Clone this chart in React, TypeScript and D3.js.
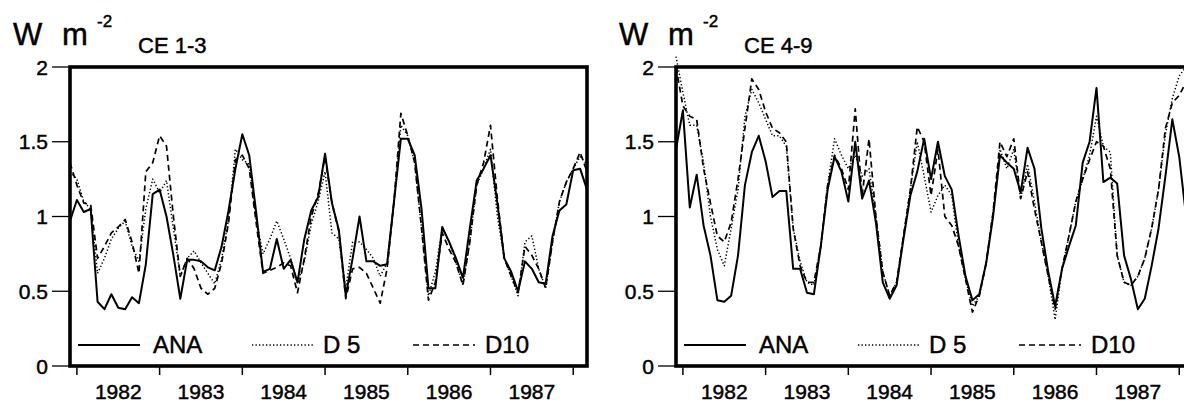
import React from "react";
import * as d3 from "d3";

// Monthly values, Dec 1981 .. Mar 1988 (76 months)
const years = ["1982", "1983", "1984", "1985", "1986", "1987"];
const yTickValues = [0, 0.5, 1, 1.5, 2];
const yTickLabels = ["0", "0.5", "1", "1.5", "2"];
const seriesNames = ["ANA", "D 5", "D10"];
const panelTitles = ["CE 1-3", "CE 4-9"];

const anaLeft = [0.97, 1.11, 1.03, 1.05, 0.43, 0.38, 0.48, 0.39, 0.38, 0.46, 0.42, 0.68, 1.15, 1.18, 1.0, 0.74, 0.45, 0.71, 0.71, 0.7, 0.66, 0.64, 0.8, 1.04, 1.32, 1.55, 1.41, 1.03, 0.63, 0.65, 0.85, 0.65, 0.71, 0.56, 0.85, 1.04, 1.13, 1.42, 1.09, 0.91, 0.47, 0.72, 1.0, 0.7, 0.7, 0.67, 0.68, 1.1, 1.52, 1.52, 1.41, 1.05, 0.52, 0.52, 0.93, 0.83, 0.72, 0.59, 0.92, 1.24, 1.32, 1.41, 1.09, 0.72, 0.63, 0.5, 0.7, 0.65, 0.56, 0.55, 0.87, 1.04, 1.08, 1.31, 1.32, 1.18];
const d5Left = [1.3, 1.25, 1.1, 1.05, 0.62, 0.72, 0.85, 0.92, 0.97, 0.8, 0.7, 1.05, 1.25, 1.16, 1.24, 0.92, 0.6, 0.72, 0.77, 0.69, 0.62, 0.55, 0.72, 0.98, 1.45, 1.38, 1.35, 0.98, 0.75, 0.85, 0.97, 0.85, 0.72, 0.55, 0.7, 0.95, 1.1, 1.3, 0.89, 0.85, 0.52, 0.83, 0.83, 0.78, 0.72, 0.6, 0.69, 1.1, 1.61, 1.54, 1.36, 0.92, 0.47, 0.63, 0.92, 0.83, 0.69, 0.54, 0.83, 1.21, 1.32, 1.45, 1.0, 0.72, 0.6, 0.47, 0.83, 0.87, 0.65, 0.52, 0.83, 1.1, 1.23, 1.32, 1.4, 1.35];
const d10Left = [1.36, 1.21, 1.09, 1.08, 0.72, 0.8, 0.89, 0.93, 0.98, 0.83, 0.62, 1.3, 1.36, 1.54, 1.47, 1.0, 0.6, 0.72, 0.65, 0.52, 0.48, 0.52, 0.69, 0.96, 1.38, 1.41, 1.32, 0.96, 0.62, 0.64, 0.66, 0.69, 0.67, 0.49, 0.72, 1.0, 1.15, 1.4, 1.09, 0.9, 0.45, 0.65, 0.66, 0.62, 0.52, 0.42, 0.65, 1.1, 1.69, 1.54, 1.36, 0.92, 0.44, 0.56, 0.89, 0.78, 0.69, 0.54, 0.83, 1.21, 1.36, 1.61, 1.12, 0.72, 0.6, 0.49, 0.8, 0.74, 0.65, 0.52, 0.83, 1.1, 1.23, 1.32, 1.43, 1.3];

const anaRight = [1.45, 1.71, 1.06, 1.28, 0.94, 0.74, 0.44, 0.43, 0.47, 0.74, 1.21, 1.43, 1.54, 1.37, 1.13, 1.17, 1.17, 0.65, 0.65, 0.49, 0.48, 0.8, 1.18, 1.4, 1.3, 1.1, 1.5, 1.12, 1.24, 0.96, 0.56, 0.45, 0.54, 0.85, 1.14, 1.3, 1.52, 1.25, 1.5, 1.27, 1.18, 0.87, 0.6, 0.44, 0.48, 0.69, 1.0, 1.41, 1.36, 1.32, 1.16, 1.46, 1.32, 0.92, 0.63, 0.4, 0.65, 0.8, 0.94, 1.36, 1.5, 1.86, 1.23, 1.26, 1.22, 0.74, 0.58, 0.38, 0.45, 0.67, 0.92, 1.27, 1.65, 1.4, 1.0, 0.8];
const d5Right = [2.07, 1.83, 1.61, 1.61, 1.36, 1.0, 0.78, 0.67, 0.92, 1.18, 1.67, 1.85, 1.76, 1.65, 1.54, 1.54, 1.47, 0.92, 0.7, 0.56, 0.54, 0.8, 1.21, 1.52, 1.41, 1.32, 1.41, 1.27, 1.32, 1.0, 0.63, 0.47, 0.56, 0.87, 1.18, 1.5, 1.27, 1.03, 1.14, 1.21, 1.14, 0.8, 0.58, 0.4, 0.47, 0.69, 1.03, 1.45, 1.32, 1.45, 1.12, 1.35, 1.1, 0.83, 0.6, 0.31, 0.65, 0.87, 1.1, 1.25, 1.41, 1.67, 1.47, 1.43, 0.74, 0.56, 0.54, 0.6, 0.72, 0.92, 1.18, 1.55, 1.79, 1.94, 2.0, 1.9];
const d10Right = [2.0, 1.74, 1.67, 1.65, 1.32, 1.09, 0.87, 0.83, 0.96, 1.25, 1.59, 1.92, 1.85, 1.7, 1.59, 1.56, 1.5, 0.92, 0.67, 0.56, 0.56, 0.8, 1.21, 1.41, 1.32, 1.18, 1.72, 1.14, 1.52, 1.0, 0.63, 0.47, 0.56, 0.87, 1.18, 1.6, 1.5, 1.14, 1.45, 1.0, 0.94, 0.8, 0.58, 0.36, 0.47, 0.69, 1.03, 1.5, 1.4, 1.52, 1.12, 1.3, 1.05, 0.83, 0.6, 0.38, 0.65, 0.87, 1.1, 1.25, 1.38, 1.5, 1.47, 1.32, 0.74, 0.56, 0.54, 0.6, 0.72, 0.92, 1.18, 1.59, 1.76, 1.81, 1.9, 1.8];

const FONT = "'Liberation Sans', Arial, Helvetica, sans-serif";
const PANEL_W = 517;
const TOP = 67;
const BOTTOM = 366;

const styles = [
  { width: 2, dash: undefined as string | undefined },
  { width: 1.5, dash: "1.3 2.2" },
  { width: 1.7, dash: "6 4" },
];

const textProps = { fontFamily: FONT, fill: "#000", stroke: "#000", strokeWidth: 0.45 };

function Panel({ left, title, data }: { left: number; title: string; data: number[][] }) {
  const x = d3.scaleLinear().domain([0, 75]).range([left, left + PANEL_W]);
  const y = d3.scaleLinear().domain([0, 2]).range([BOTTOM, TOP]);
  const line = d3
    .line<number>()
    .x((_, i) => x(i))
    .y((d) => y(d));
  const yearTickIdx = d3.range(0, years.length + 1).map((k) => 1 + 12 * k);
  const legendX = [8, 182, 343];
  const legendTextX = [83, 253, 415];
  return (
    <g>
      <text x={left - 57} y={45} fontSize={31} {...textProps}>W</text>
      <text x={left - 8} y={45} fontSize={31} {...textProps}>m</text>
      <text x={left + 27} y={27} fontSize={17} {...textProps}>-2</text>
      <text x={left + 68} y={53} fontSize={22} {...textProps}>{title}</text>
      {yTickValues.map((v, k) => (
        <g key={k}>
          <line x1={left - 18} x2={left} y1={y(v)} y2={y(v)} stroke="#000" strokeWidth={1.3} />
          <text x={left - 22} y={y(v)} dy="0.36em" textAnchor="end" fontSize={21} {...textProps}>
            {yTickLabels[k]}
          </text>
        </g>
      ))}
      {yearTickIdx.map((i) => (
        <line key={i} x1={x(i)} x2={x(i)} y1={BOTTOM} y2={BOTTOM + 9} stroke="#000" strokeWidth={1.5} />
      ))}
      {years.map((yr, k) => (
        <text key={yr} x={x(7 + 12 * k)} y={399} textAnchor="middle" fontSize={21} {...textProps}>
          {yr}
        </text>
      ))}
      {data.map((s, k) => (
        <path
          key={k}
          d={line(s) || ""}
          fill="none"
          stroke="#000"
          strokeWidth={styles[k].width}
          strokeDasharray={styles[k].dash}
          strokeLinejoin="round"
        />
      ))}
      {seriesNames.map((n, k) => (
        <g key={n}>
          <line
            x1={left + legendX[k]}
            x2={left + legendX[k] + 62}
            y1={345}
            y2={345}
            stroke="#000"
            strokeWidth={styles[k].width}
            strokeDasharray={styles[k].dash}
          />
          <text x={left + legendTextX[k]} y={353} fontSize={24} {...textProps}>
            {n}
          </text>
        </g>
      ))}
      <rect x={left} y={TOP} width={PANEL_W} height={BOTTOM - TOP} fill="none" stroke="#000" strokeWidth={3.6} />
    </g>
  );
}

export default function App() {
  return (
    <div style={{ position: "absolute", left: 0, top: 0 }}>
      <svg width={1184} height={404} style={{ display: "block", background: "#fff" }}>
        <rect width={1184} height={404} fill="#fff" />
        <Panel left={70} title={panelTitles[0]} data={[anaLeft, d5Left, d10Left]} />
        <Panel left={676} title={panelTitles[1]} data={[anaRight, d5Right, d10Right]} />
      </svg>
    </div>
  );
}
